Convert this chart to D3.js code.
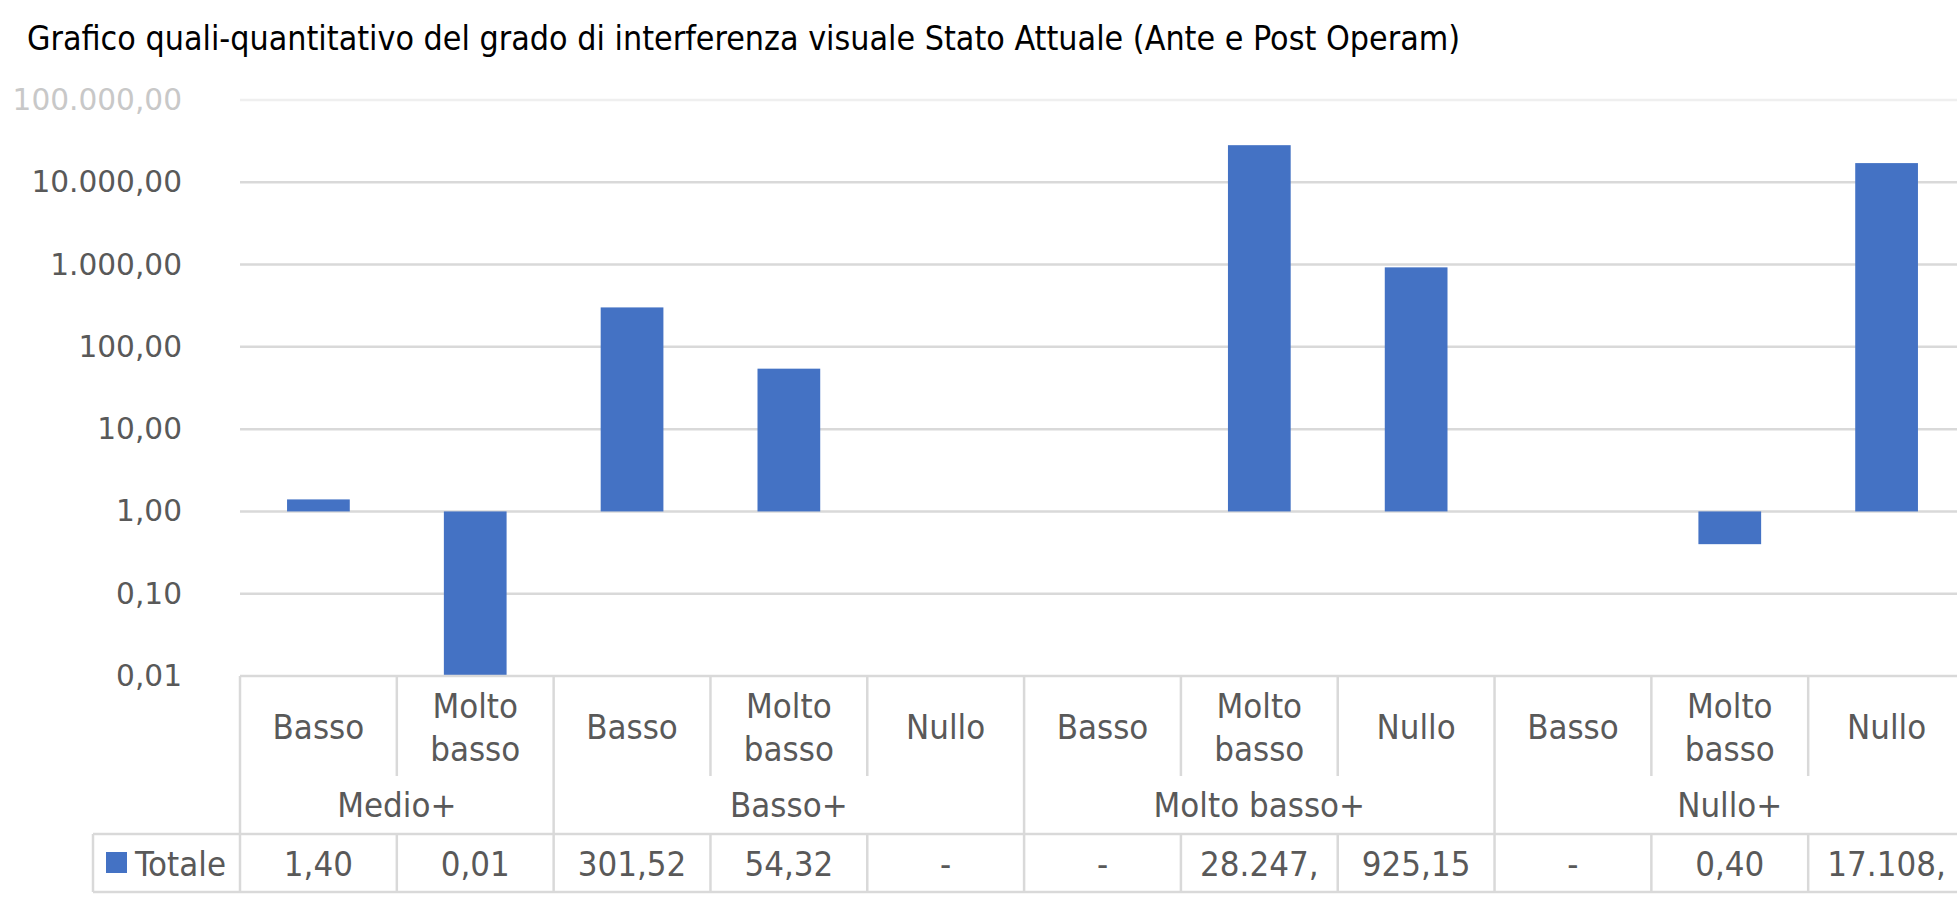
<!DOCTYPE html>
<html lang="it">
<head>
<meta charset="utf-8">
<title>Grafico quali-quantitativo</title>
<script src="https://d3js.org/d3.v7.min.js"></script>
<style>
  html, body { margin: 0; padding: 0; background: #fff; }
  .title { font-family: "Liberation Sans Narrow", "DejaVu Sans Condensed", sans-serif; font-size: 33.7px; fill: #000; }
  .ylab text { font-family: "DejaVu Sans", sans-serif; font-size: 29.6px; fill: #595959; }
  .tbl text { font-family: "Liberation Sans Narrow", "DejaVu Sans Condensed", sans-serif; font-size: 34.5px; fill: #595959; }
  .grid line, .tbl line { stroke: #d9d9d9; stroke-width: 2.5px; }
</style>
</head>
<body>
<div id="chart"></div>
<script>
// data
var categories = ["Basso", "Molto basso", "Basso", "Molto basso", "Nullo", "Basso", "Molto basso", "Nullo", "Basso", "Molto basso", "Nullo"];
var groupNames = ["Medio+", "Basso+", "Molto basso+", "Nullo+"];
var groupSizes = [2, 3, 3, 3];
var values = [1.40, 0.01, 301.52, 54.32, null, null, 28247, 925.15, null, 0.40, 17108];
var valueLabels = ["1,40", "0,01", "301,52", "54,32", "-", "-", "28.247,", "925,15", "-", "0,40", "17.108,"];
var yTicks = [0.01, 0.1, 1, 10, 100, 1000, 10000, 100000];

(function() {
var w = 1957, h = 898;
var left = 240, right = 1965, plotTop = 100, base = 676;
var rowCat = 776, rowGroup = 834, rowData = 892, legendLeft = 93;

var it = d3.formatLocale({decimal: ",", thousands: ".", grouping: [3], currency: ["€", ""]});
var fmt = it.format(",.2f");

var svg = d3.select("#chart").append("svg")
  .attr("width", w).attr("height", h);

svg.append("text").attr("class", "title")
  .attr("x", 27).attr("y", 50)
  .text("Grafico quali-quantitativo del grado di interferenza visuale Stato Attuale (Ante e Post Operam)");

var y = d3.scaleLog().domain([0.01, 100000]).range([base, plotTop]);
var idx = d3.range(categories.length);
var cell = d3.scaleBand().domain(idx).range([left, right]);
var x = d3.scaleBand().domain(idx).range([left, right]).paddingInner(0.6).paddingOuter(0.3);

// gridlines
svg.append("g").attr("class", "grid")
  .selectAll("line").data(yTicks.slice(1)).enter().append("line")
  .attr("x1", left).attr("x2", w)
  .attr("y1", function(d) { return y(d); }).attr("y2", function(d) { return y(d); })
  .style("stroke", function(d) { return d === 100000 ? "#efefef" : null; });

// y labels
var yAxis = svg.append("g").attr("class", "ylab")
  .attr("transform", "translate(" + (left - 58) + ",0)")
  .call(d3.axisLeft(y).tickValues(yTicks).tickSize(0).tickPadding(0).tickFormat(fmt));
yAxis.select(".domain").remove();
yAxis.selectAll("text")
  .style("fill", function(d) { return d === 100000 ? "#c8c8c8" : null; });

// bars, from 1 (log base)
svg.append("g").selectAll("rect")
  .data(values.map(function(v, i) { return {i: i, v: v}; }).filter(function(d) { return d.v != null; }))
  .enter().append("rect")
  .attr("x", function(d) { return x(d.i); })
  .attr("width", x.bandwidth())
  .attr("y", function(d) { return Math.min(y(d.v), y(1)); })
  .attr("height", function(d) { return Math.abs(y(d.v) - y(1)); })
  .attr("fill", "#4472c4");

// data table
var tbl = svg.append("g").attr("class", "tbl");

function hline(yy, x1) {
  tbl.append("line").attr("x1", x1).attr("x2", w).attr("y1", yy).attr("y2", yy);
}
hline(base, left);
hline(rowGroup, legendLeft);
hline(rowData, legendLeft);

// group boundaries
var groupStart = [];
var acc = 0;
groupSizes.forEach(function(s) { groupStart.push(acc); acc += s; });

idx.concat([categories.length]).forEach(function(i) {
  var xx = i < categories.length ? cell(i) : right;
  var isGroup = i === 0 || i === categories.length || groupStart.indexOf(i) >= 0;
  tbl.append("line").attr("x1", xx).attr("x2", xx)
    .attr("y1", base).attr("y2", isGroup ? rowData : rowCat);
  if (!isGroup) {
    tbl.append("line").attr("x1", xx).attr("x2", xx).attr("y1", rowGroup).attr("y2", rowData);
  }
});
tbl.append("line").attr("x1", legendLeft).attr("x2", legendLeft).attr("y1", rowGroup).attr("y2", rowData);

// category labels
var catY = 729;
var catText = tbl.selectAll("text.cat").data(categories).enter().append("text")
  .attr("class", "cat")
  .attr("text-anchor", "middle")
  .attr("x", function(d, i) { return cell(i) + cell.bandwidth() / 2; })
  .attr("y", catY)
  .attr("dominant-baseline", "middle");
catText.each(function(d) {
  var words = d.split(" ");
  var t = d3.select(this);
  if (words.length === 1) {
    t.text(d);
  } else {
    words.forEach(function(wd, k) {
      t.append("tspan").attr("x", t.attr("x")).attr("y", catY + (k === 0 ? -21 : 22)).text(wd);
    });
  }
});

// group labels
tbl.selectAll("text.grp").data(groupNames).enter().append("text")
  .attr("class", "grp")
  .attr("text-anchor", "middle")
  .attr("dominant-baseline", "middle")
  .attr("x", function(d, i) {
    var a = cell(groupStart[i]);
    var b = groupStart[i] + groupSizes[i] < categories.length ? cell(groupStart[i] + groupSizes[i]) : right;
    return (a + b) / 2;
  })
  .attr("y", 807)
  .text(function(d) { return d; });

// value row
tbl.selectAll("text.val").data(valueLabels).enter().append("text")
  .attr("class", "val")
  .attr("text-anchor", "middle")
  .attr("dominant-baseline", "middle")
  .attr("x", function(d, i) { return cell(i) + cell.bandwidth() / 2; })
  .attr("y", 866)
  .text(function(d) { return d; });

// legend key
tbl.append("rect").attr("x", 106).attr("y", 852).attr("width", 21).attr("height", 21).attr("fill", "#4472c4");
tbl.append("text").attr("x", 135).attr("y", 866).attr("dominant-baseline", "middle").text("Totale");
})();
</script>
</body>
</html>
